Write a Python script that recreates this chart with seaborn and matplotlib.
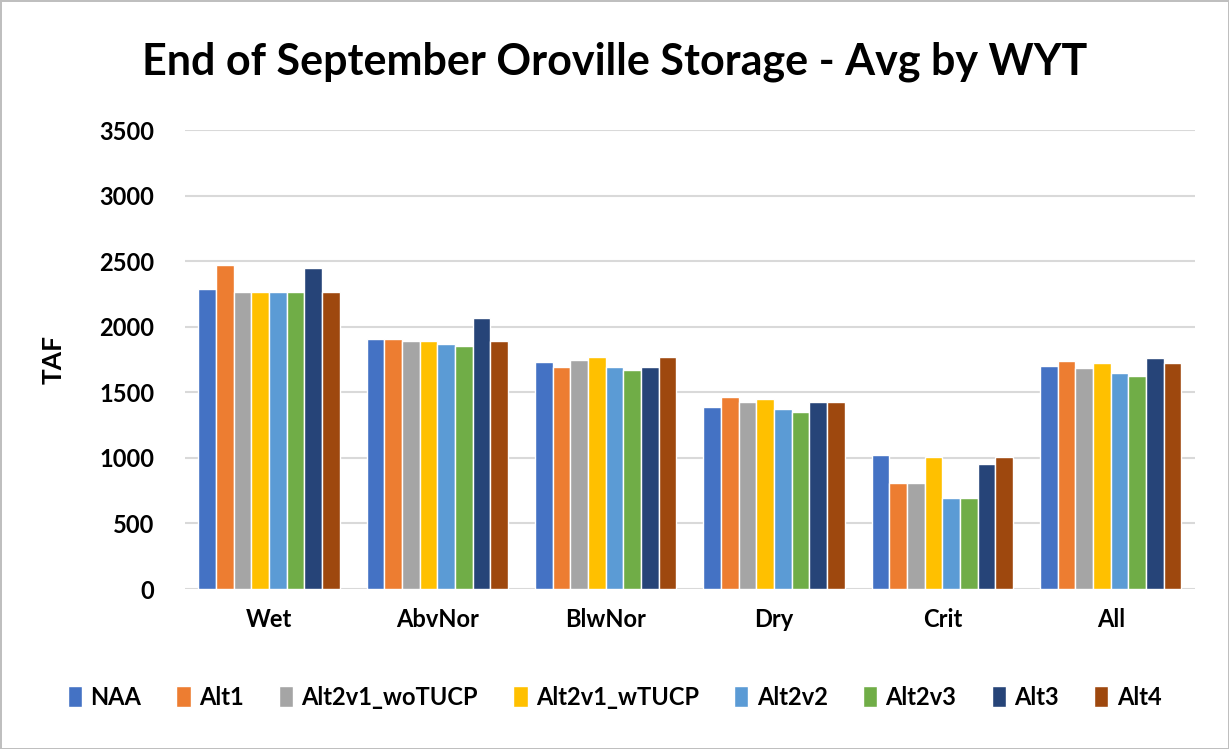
import matplotlib
matplotlib.use("Agg")
import matplotlib.pyplot as plt
import seaborn as sns
import pandas as pd

categories = ["Wet", "AbvNor", "BlwNor", "Dry", "Crit", "All"]
scenarios = ["NAA", "Alt1", "Alt2v1_woTUCP", "Alt2v1_wTUCP", "Alt2v2", "Alt2v3", "Alt3", "Alt4"]

naa = [2285, 1908, 1733, 1389, 1025, 1703]
alt1 = [2470, 1908, 1690, 1467, 806, 1741]
alt2v1_wo = [2267, 1888, 1750, 1428, 806, 1683]
alt2v1_w = [2267, 1888, 1767, 1448, 1005, 1721]
alt2v2 = [2267, 1868, 1690, 1369, 693, 1645]
alt2v3 = [2267, 1850, 1672, 1349, 693, 1627]
alt3 = [2447, 2063, 1690, 1428, 950, 1762]
alt4 = [2267, 1888, 1767, 1428, 1005, 1721]

colors = ["#4472C4", "#ED7D31", "#A5A5A5", "#FFC000", "#5B9BD5", "#70AD47", "#264478", "#9E480E"]

series = [naa, alt1, alt2v1_wo, alt2v1_w, alt2v2, alt2v3, alt3, alt4]
rows = []
for name, vals in zip(scenarios, series):
    for cat, v in zip(categories, vals):
        rows.append({"WYT": cat, "Scenario": name, "TAF": v})
df = pd.DataFrame(rows)

sns.set_theme(style="white")
plt.rcParams["font.family"] = ["Lato", "DejaVu Sans"]
plt.rcParams["text.color"] = "black"
plt.rcParams["xtick.color"] = "black"
plt.rcParams["ytick.color"] = "black"
plt.rcParams["axes.labelcolor"] = "black"

fig = plt.figure(figsize=(12.29, 7.49), dpi=100, edgecolor="#bfbfbf", linewidth=2)
ax = fig.add_axes([0.1505, 0.2136, 0.8218, 0.6128])

sns.barplot(data=df, x="WYT", y="TAF", hue="Scenario", order=categories,
            hue_order=scenarios, palette=colors, width=0.84, gap=0,
            saturation=1, ax=ax)

ax.set_ylim(0, 3500)
ax.set_yticks(range(0, 3501, 500))
ax.yaxis.grid(True, color="#d9d9d9", linewidth=1.5)
ax.set_axisbelow(True)
for s in ax.spines.values():
    s.set_visible(False)
ax.tick_params(axis="y", labelsize=17, pad=22, length=0)
ax.tick_params(axis="x", labelsize=17, pad=14, length=0)
for lbl in ax.get_xticklabels() + ax.get_yticklabels():
    lbl.set_fontweight("bold")
ax.set_xlabel("")
ax.set_ylabel("TAF", fontsize=19, fontweight="bold", labelpad=24)

fig.suptitle("End of September Oroville Storage - Avg by WYT",
             x=0.5, y=0.917, fontsize=31, fontweight="bold", va="center")

handles, labels = ax.get_legend_handles_labels()
ax.legend_.remove()
fig.legend(handles, labels, loc="center", bbox_to_anchor=(0.5, 0.069), ncol=8,
           frameon=False, handlelength=0.6, handleheight=1.0, handletextpad=0.35,
           columnspacing=1.5, prop={"weight": "bold", "size": 17})

fig.savefig("out.png", dpi=100)
